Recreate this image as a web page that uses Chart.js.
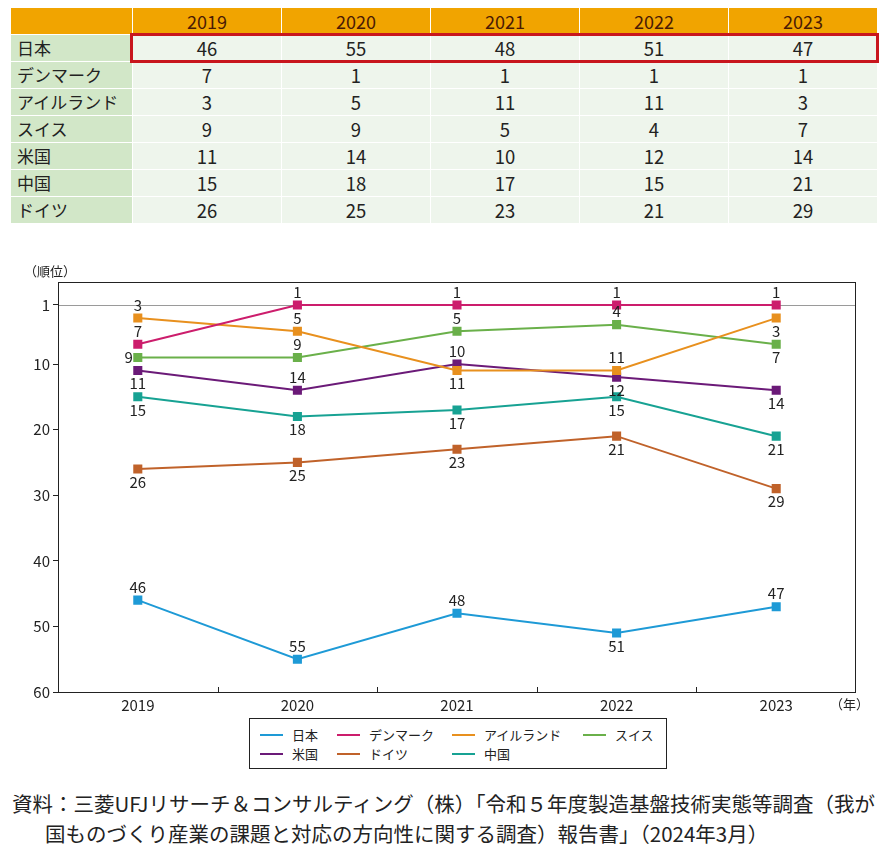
<!DOCTYPE html>
<html><head><meta charset="utf-8">
<script src="https://cdn.jsdelivr.net/npm/chart.js@4.4.1/dist/chart.umd.min.js"></script>
<style>
html,body{margin:0;padding:0;background:#fff;}
body{width:885px;height:860px;position:relative;overflow:hidden;font-family:"Noto Sans CJK JP","Noto Sans",sans-serif;color:#222;}
#tbl{position:absolute;left:10px;top:7px;border-collapse:collapse;table-layout:fixed;}
#tbl td,#tbl th{border:1px solid #fff;height:26px;padding:0;font-size:17px;font-weight:normal;line-height:26px;}
#tbl th{background:#f1a400;color:#4a1a05;text-align:center;font-size:18px;font-weight:400;}
#tbl td.lab{background:#d2e7c8;text-align:left;padding-left:6px;}
#tbl td.val{background:#eef5ec;text-align:center;font-size:18.5px;}
#redbox{position:absolute;left:130px;top:33px;width:749px;height:30px;border:3px solid #c8161d;box-sizing:border-box;}
#wrap{position:absolute;left:0;top:255px;width:885px;height:460px;}
#legend{position:absolute;left:249px;top:718px;width:418px;height:51px;border:1px solid #222;box-sizing:border-box;font-size:13px;}
.li{position:absolute;display:flex;align-items:center;white-space:nowrap;}
.li span.sw{display:inline-block;width:23px;height:2px;margin-right:9px;}
#src{position:absolute;left:12px;top:788px;font-size:20.5px;line-height:30px;color:#222;white-space:nowrap;}
#src div.l2{padding-left:33px;}
</style></head><body>
<table id="tbl"></table>
<div id="redbox"></div>
<div id="wrap"><canvas id="c" width="885" height="460"></canvas></div>
<div id="legend"></div>
<div id="src"><div>資料：三菱UFJリサーチ＆コンサルティング（株）「令和５年度製造基盤技術実態等調査（我が</div><div class="l2">国ものづくり産業の課題と対応の方向性に関する調査）報告書」（2024年3月）</div></div>
<script>
const years = ['2019','2020','2021','2022','2023'];
const countries = ['日本','デンマーク','アイルランド','スイス','米国','中国','ドイツ'];
const japan    = [46,55,48,51,47];
const denmark  = [7,1,1,1,1];
const ireland  = [3,5,11,11,3];
const swiss    = [9,9,5,4,7];
const usa      = [11,14,10,12,14];
const china    = [15,18,17,15,21];
const germany  = [26,25,23,21,29];
const yTicks   = [1,10,20,30,40,50,60];

const seriesValues = [japan,denmark,ireland,swiss,usa,china,germany];
const colors = ['#1e9ad6','#cc1d6c','#e8901e','#6ab04a','#6b1a78','#17a293','#c0622a'];
// label placement per point: a = above, b = below, l = left
const labelPos = [
  ['a','a','a','b','a'],
  ['a','a','a','a','a'],
  ['a','a','b','a','b'],
  ['l','a','a','a','b'],
  ['b','a','a','b','b'],
  ['b','b','b','b','b'],
  ['b','b','b','b','b']
];
const legendOrder = [0,1,2,3,4,6,5];
const FONT = '"Noto Sans CJK JP","Noto Sans",sans-serif';

// table
const tbl = document.getElementById('tbl');
let html = '<colgroup><col style="width:122px">' + years.map(()=>'<col style="width:149px">').join('') + '</colgroup>';
html += '<tr><th></th>' + years.map(y=>'<th>'+y+'</th>').join('') + '</tr>';
countries.forEach((c,i)=>{
  html += '<tr><td class="lab">'+c+'</td>' + seriesValues[i].map(v=>'<td class="val">'+v+'</td>').join('') + '</tr>';
});
tbl.innerHTML = html;

// legend
const lg = document.getElementById('legend');
const lx = [10,87,202,333], ly = [6,25];
legendOrder.forEach((si,k)=>{
  const d = document.createElement('div');
  d.className='li';
  d.style.left = lx[k%4]+'px'; d.style.top = ly[Math.floor(k/4)]+'px';
  d.innerHTML = '<span class="sw" style="background:'+colors[si]+'"></span>'+countries[si];
  lg.appendChild(d);
});

const datasets = countries.map((c,i)=>({
  label:c, data:seriesValues[i], borderColor:colors[i], backgroundColor:colors[i],
  borderWidth:2, pointStyle:'rect', pointRadius:5, pointHoverRadius:5, tension:0,
  order: i===0?7:i
}));

const extras = {
  id:'extras',
  beforeDatasetsDraw(chart){
    const {ctx, chartArea:a, scales:{x,y}} = chart;
    ctx.save();
    const y1 = y.getPixelForValue(1);
    ctx.strokeStyle='#9a9a9a'; ctx.lineWidth=1;
    ctx.beginPath(); ctx.moveTo(a.left, Math.round(y1)+0.5); ctx.lineTo(a.right, Math.round(y1)+0.5); ctx.stroke();
    ctx.strokeStyle='#222'; ctx.lineWidth=1;
    ctx.strokeRect(a.left+0.5, a.top+0.5, a.right-a.left-1, a.bottom-a.top);
    for(let i=0;i<years.length-1;i++){
      const px = Math.round((x.getPixelForValue(i)+x.getPixelForValue(i+1))/2)+0.5;
      ctx.beginPath(); ctx.moveTo(px,a.bottom); ctx.lineTo(px,a.bottom-5); ctx.stroke();
    }
    ctx.restore();
  },
  afterDatasetsDraw(chart){
    const {ctx, chartArea:a} = chart;
    ctx.save();
    ctx.fillStyle='#222';
    ctx.font='15px '+FONT;
    ctx.textBaseline='middle';
    chart.data.datasets.forEach((ds,i)=>{
      const meta = chart.getDatasetMeta(i);
      meta.data.forEach((pt,j)=>{
        const p = labelPos[i][j];
        const txt = String(ds.data[j]);
        if(p==='l'){ ctx.textAlign='right'; ctx.fillText(txt, pt.x-5, pt.y); }
        else { ctx.textAlign='center'; ctx.fillText(txt, pt.x, pt.y + (p==='a'?-13:13)); }
      });
    });
    ctx.font='13px '+FONT;
    ctx.textAlign='left';
    ctx.fillText('（順位）', a.left-34, a.top-11);
    ctx.fillText('（年）', a.right-26, a.bottom+12);
    ctx.restore();
  }
};

new Chart(document.getElementById('c'), {
  type:'line',
  data:{labels:years, datasets},
  options:{
    responsive:false, animation:false,
    layout:{padding:{top:27,right:29,left:0,bottom:0}},
    plugins:{legend:{display:false}, tooltip:{enabled:false}},
    scales:{
      x:{
        offset:true,
        grid:{display:false, drawTicks:false},
        border:{display:false},
        ticks:{padding:4, color:'#222', font:{size:15, family:FONT}},
        afterFit(s){ s.height = 23; }
      },
      y:{
        reverse:true, min:-2.5, max:60,
        afterBuildTicks(s){ s.ticks = yTicks.map(v=>({value:v})); },
        grid:{drawOnChartArea:false, tickLength:5, tickColor:'#222'},
        border:{display:false},
        ticks:{padding:3, color:'#222', font:{size:15, family:FONT}},
        afterFit(s){ s.width = 58; }
      }
    }
  },
  plugins:[extras]
});
</script>
</body></html>
